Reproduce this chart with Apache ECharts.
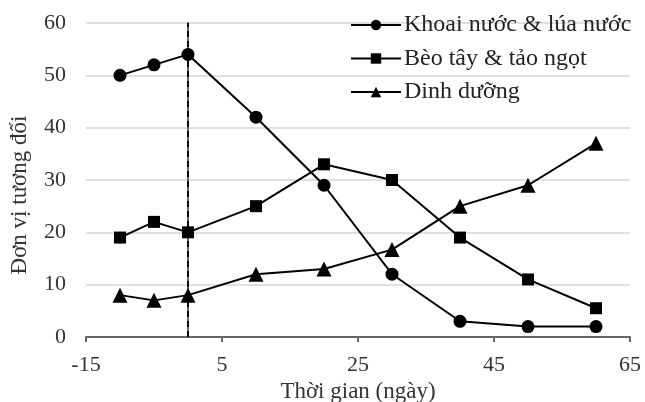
<!DOCTYPE html>
<html><head><meta charset="utf-8">
<script src="https://cdn.jsdelivr.net/npm/echarts@6/dist/echarts.min.js"></script>
<style>html,body{margin:0;padding:0;background:#fff}#c{width:645px;height:402px}</style>
</head><body><div id="c"></div>
<script>
const days = [-10, -5, 0, 10, 20, 30, 40, 50, 60];
const khoai = [50, 52, 54, 42, 29, 12, 3, 2, 2];
const beo = [19, 22, 20, 25, 33, 30, 19, 11, 5.5];
const dinh = [8, 7, 8, 12, 13, 16.7, 25, 29, 37];
const names = ['Khoai nước & lúa nước', 'Bèo tây & tảo ngọt', 'Dinh dưỡng'];
const markerLine = 0;

const font = 'Liberation Serif';
function pairs(v){ return days.map((d,i)=>[d, v[i]]); }
const chart = echarts.init(document.getElementById('c'));
chart.setOption({
  animation:false,
  textStyle:{fontFamily:font},
  grid:{left:86, right:15, top:23, bottom:65, containLabel:false, outerBoundsMode:'none'},
  legend:{
    left:348, top:11, orient:'vertical',
    itemWidth:50, itemHeight:13, itemGap:9.5, padding:[2,0,2,2],
    textStyle:{fontFamily:font, fontSize:24, color:'#222', padding:[0,0,0,-2]},
    data:names
  },
  xAxis:{
    type:'value', min:-15, max:65, interval:20,
    name:'Thời gian (ngày)', nameLocation:'middle', nameGap:42,
    nameTextStyle:{fontFamily:font, fontSize:23, color:'#333'},
    axisLine:{lineStyle:{color:'#666', width:2}},
    axisTick:{show:true, length:5, lineStyle:{color:'#666', width:2}},
    axisLabel:{fontFamily:font, fontSize:22, color:'#333', margin:17},
    splitLine:{show:false}
  },
  yAxis:{
    type:'value', min:0, max:60, interval:10,
    name:'Đơn vị tương đối', nameLocation:'middle', nameGap:55,
    nameTextStyle:{fontFamily:font, fontSize:23, color:'#333', padding:[0,30,0,0]},
    axisLine:{show:true, lineStyle:{color:'#666', width:2}},
    axisTick:{show:false},
    axisLabel:{fontFamily:font, fontSize:22, color:'#333', margin:20},
    splitLine:{lineStyle:{color:'#d6d6d6', width:1.5}}
  },
  series:[
    {name:names[0], type:'line', data:pairs(khoai), symbol:'circle', symbolSize:13,
     lineStyle:{color:'#000', width:2}, itemStyle:{color:'#000'},
     markLine:{silent:true, symbol:'none', label:{show:false},
       lineStyle:{color:'#000', type:[6,4], width:1.8},
       data:[{xAxis:markerLine}]}},
    {name:names[1], type:'line', data:pairs(beo), symbol:'rect', symbolSize:12,
     lineStyle:{color:'#000', width:2}, itemStyle:{color:'#000'}},
    {name:names[2], type:'line', data:pairs(dinh), symbol:'triangle', symbolSize:15,
     lineStyle:{color:'#000', width:2}, itemStyle:{color:'#000'}}
  ]
});
</script></body></html>
